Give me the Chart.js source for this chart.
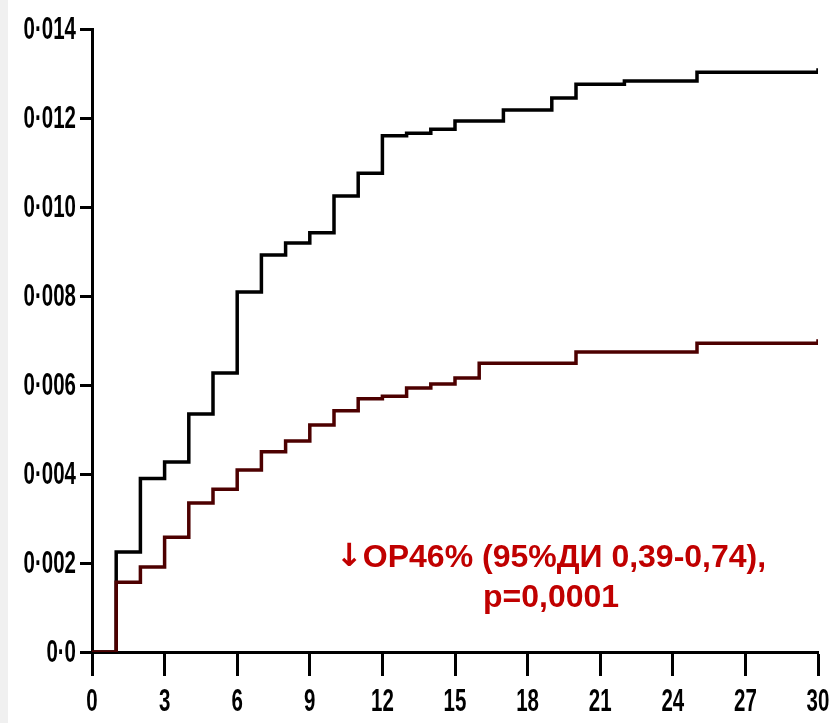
<!DOCTYPE html>
<html>
<head>
<meta charset="utf-8">
<script src="https://cdn.jsdelivr.net/npm/chart.js@4/dist/chart.umd.min.js"></script>
<style>
  html, body { margin:0; padding:0; background:#fff; }
  .wrap { position:relative; width:834px; height:723px; }
  .strip { position:absolute; left:0; top:0; width:8px; height:723px; background:#f0f0f0; }
  canvas { position:absolute; left:0; top:0; }
</style>
</head>
<body>
<div class="wrap">
  <div class="strip"></div>
  <canvas id="km" width="834" height="723"></canvas>
</div>
<script>
// months of follow-up and cumulative incidence (step values)
const ctrlMonths = [0, 1, 2, 3, 4, 5, 6, 7, 8, 9, 10, 11, 12, 13, 14, 15, 17, 19, 20, 22, 25, 30];
const ctrlValues = [0, 0.00225, 0.0039, 0.00427, 0.00535, 0.00627, 0.00809, 0.00892, 0.00919, 0.00942,
  0.01025, 0.01076, 0.0116, 0.01166, 0.01175, 0.01193, 0.01218, 0.01245, 0.01276, 0.01283, 0.01303, 0.01312];

const treatMonths = [0, 1, 2, 3, 4, 5, 6, 7, 8, 9, 10, 11, 12, 13, 14, 15, 16, 20, 25, 30];
const treatValues = [0, 0.00157, 0.00191, 0.00258, 0.00335, 0.00366, 0.00409, 0.0045, 0.00474, 0.0051,
  0.00542, 0.00569, 0.00575, 0.00593, 0.00602, 0.00616, 0.00649, 0.00674, 0.00694, 0.00703];

const xTicks = [0, 3, 6, 9, 12, 15, 18, 21, 24, 27, 30];
const yTicks = [0, 0.002, 0.004, 0.006, 0.008, 0.010, 0.012, 0.014];
const yTickLabels = ["0·0", "0·002", "0·004", "0·006", "0·008", "0·010", "0·012", "0·014"];

const noteArrow = "↓";
const noteLines = ["ОР46% (95%ДИ 0,39-0,74),", "p=0,0001"];

function pts(xs, ys){
  return xs.map((x, i) => ({ x, y: ys[i] }));
}

const AXIS_FONT = "bold 32px 'Liberation Sans', Arial, sans-serif";
const NOTE_FONT = "bold 32px 'Liberation Sans', Arial, sans-serif";
const ARROW_FONT = "bold 32px 'DejaVu Sans', sans-serif";

// tick labels are narrow in the original, so draw them squeezed
const squeezedTicks = {
  id: "squeezedTicks",
  afterDraw(chart){
    const ctx = chart.ctx;
    const xs = chart.scales.x, ys = chart.scales.y;
    ctx.save();
    ctx.fillStyle = "#000";
    ctx.font = AXIS_FONT;
    ys.ticks.forEach(t => {
      const i = yTicks.findIndex(v => Math.abs(v - t.value) < 1e-9);
      if (i < 0) return;
      const py = ys.getPixelForValue(t.value);
      ctx.save();
      ctx.translate(76, py + 1);
      ctx.scale(0.64, 1);
      ctx.textAlign = "right";
      ctx.textBaseline = "middle";
      ctx.fillText(yTickLabels[i], 0, 0);
      ctx.restore();
    });
    xs.ticks.forEach(t => {
      if (!xTicks.includes(t.value)) return;
      const px = xs.getPixelForValue(t.value);
      ctx.save();
      ctx.translate(px, 702);
      ctx.scale(0.64, 1);
      ctx.textAlign = "center";
      ctx.textBaseline = "middle";
      ctx.fillText(String(t.value), 0, 0);
      ctx.restore();
    });

    // hazard ratio note
    ctx.fillStyle = "#c00000";
    ctx.textBaseline = "middle";
    const cx = xs.getPixelForValue(18.97);
    const y1 = ys.getPixelForValue(0.00211);
    ctx.font = ARROW_FONT;
    const aw = ctx.measureText(noteArrow).width;
    ctx.font = NOTE_FONT;
    const tw = ctx.measureText(noteLines[0]).width;
    const left = cx - (aw + tw) / 2;
    ctx.textAlign = "left";
    ctx.font = ARROW_FONT;
    ctx.fillText(noteArrow, left, y1);
    ctx.font = NOTE_FONT;
    ctx.fillText(noteLines[0], left + aw, y1);
    ctx.textAlign = "center";
    ctx.fillText(noteLines[1], cx, ys.getPixelForValue(0.00121));
    ctx.restore();
  }
};

new Chart(document.getElementById("km"), {
  type: "line",
  data: {
    datasets: [
      { label: "treatment", data: pts(treatMonths, treatValues), borderColor: "#4d0000",
        borderWidth: 3.5, stepped: "before", pointRadius: 0, fill: false },
      { label: "control", data: pts(ctrlMonths, ctrlValues), borderColor: "#000",
        borderWidth: 3.5, stepped: "before", pointRadius: 0, fill: false }
    ]
  },
  options: {
    responsive: false,
    animation: false,
    layout: { padding: { left: 0, top: 29, right: 16, bottom: 0 } },
    plugins: { legend: { display: false }, tooltip: { enabled: false } },
    scales: {
      x: {
        type: "linear", min: 0, max: 30,
        afterBuildTicks: s => { s.ticks = xTicks.map(v => ({ value: v })); },
        afterFit: s => { s.height = 71; },
        ticks: { display: false },
        grid: { drawOnChartArea: false, drawTicks: true, tickLength: 24, tickWidth: 3, tickColor: "#000" },
        border: { display: true, color: "#000", width: 3 }
      },
      y: {
        min: 0, max: 0.014,
        afterBuildTicks: s => { s.ticks = yTicks.map(v => ({ value: v })); },
        afterFit: s => { s.width = 92; },
        ticks: { display: false },
        grid: { drawOnChartArea: false, drawTicks: true, tickLength: 12, tickWidth: 3, tickColor: "#000" },
        border: { display: true, color: "#000", width: 3 }
      }
    }
  },
  plugins: [squeezedTicks]
});
</script>
</body>
</html>
